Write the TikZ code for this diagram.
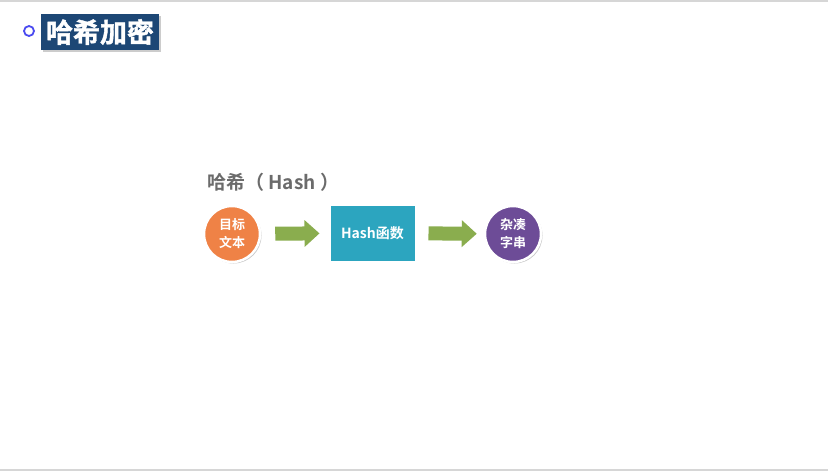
\documentclass[tikz,border=0pt]{standalone}
\usepackage{fontspec}
\setmainfont{Noto Sans CJK SC}
\newfontfamily\cjkb{Noto Sans CJK SC Bold}
\newfontfamily\cjkh[FakeBold=1.5]{Noto Sans CJK SC Bold}
\usetikzlibrary{arrows.meta,shadows}
\definecolor{titleblue}{HTML}{1D4775}
\definecolor{dotblue}{HTML}{4B4BF0}
\definecolor{orangec}{HTML}{EF8246}
\definecolor{tealc}{HTML}{2CA5BF}
\definecolor{purplec}{HTML}{6D4C97}
\definecolor{greenc}{HTML}{8AAD4E}
\definecolor{graytxt}{HTML}{6B6B6B}
\definecolor{rulegray}{HTML}{D6D6D6}
\tikzset{
  shade/.style={drop shadow={shadow xshift=1.5pt,shadow yshift=-1.5pt,opacity=0.35,fill=black!60}},
  roundbox/.style={circle,draw=white,line width=2.5pt,minimum size=56pt,inner sep=0pt,
    text=white,font=\cjkb\fontsize{13}{18}\selectfont,align=center,shade},
  fatarrow/.style={greenc,line width=14pt,-{Triangle[length=15pt,width=26pt]}}
}
\begin{document}
\begin{tikzpicture}[x=1pt,y=-1pt]
\useasboundingbox (0,0) rectangle (828,471);
\fill[white] (0,0) rectangle (828,471);
\fill[rulegray] (0,0) rectangle (828,1.5);
\fill[rulegray] (0,468.5) rectangle (828,471);
\node[circle,draw=dotblue,line width=1.8pt,minimum size=10pt,inner sep=0pt] (dot) at (29,31) {};
\node[fill=titleblue,minimum width=118pt,minimum height=36pt,inner sep=0pt,text=white,
  font=\cjkh\fontsize{27}{30}\selectfont,
  drop shadow={shadow xshift=1.5pt,shadow yshift=-1.5pt,opacity=0.4}] (title) at (100,32) {哈希加密};
\node[anchor=west,text=graytxt,font=\cjkb\fontsize{19}{22}\selectfont,inner sep=0pt] (head) at (207,182) {哈希（ Hash ）};
\node[roundbox,fill=orangec] (src) at (232,234) {目标\\文本};
\node[fill=tealc,draw=white,line width=2pt,minimum width=86pt,minimum height=57pt,inner sep=0pt,
  text=white,font=\cjkb\fontsize{14}{16}\selectfont,shade] (fn) at (372.5,233) {Hash函数};
\node[roundbox,fill=purplec] (dst) at (513,234) {杂凑\\字串};
\draw[fatarrow,shorten <=14pt,shorten >=9pt] (src) -- (fn);
\draw[fatarrow,shorten <=12pt,shorten >=7pt] (fn) -- (dst);
\end{tikzpicture}
\end{document}
